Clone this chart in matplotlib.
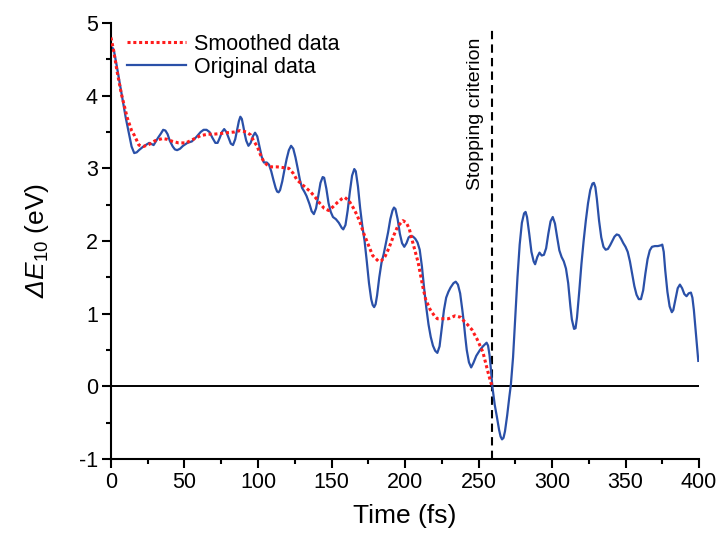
import matplotlib
matplotlib.use("Agg")
import matplotlib.pyplot as plt
from matplotlib.ticker import MultipleLocator

plt.rcParams['font.family'] = ['Liberation Sans', 'DejaVu Sans']
plt.rcParams['mathtext.fontset'] = 'custom'
plt.rcParams['mathtext.rm'] = 'Liberation Sans'
plt.rcParams['mathtext.it'] = 'Liberation Sans:italic'
plt.rcParams['mathtext.sf'] = 'Liberation Sans:italic'
plt.rcParams['axes.unicode_minus'] = False

# Original data (time in fs, energy gap in eV)
orig_t = [0, 1, 2, 4, 7, 10, 12, 14, 15.8, 17.5, 19, 22, 26, 29, 32, 34, 35.5, 37, 38.5, 40,
          42, 43.5, 45, 47, 49, 52, 55, 58, 61, 63, 65, 67, 69, 71, 72.5, 74, 75.5, 77, 78.5, 80,
          81.5, 83, 84.5, 86, 87, 88, 89, 90, 91, 92, 93.5, 95, 96.5, 98, 99.5, 101, 102.5, 104, 106, 107.5,
          109, 110.5, 112, 113, 114, 115, 116.5, 118, 119.5, 121, 122.5, 124, 125.5, 127, 128.5, 130, 131.5, 133, 135, 136.5,
          138, 139.5, 141, 142.5, 144, 145, 146.5, 148, 149.5, 151, 153, 155, 157, 158, 159.5, 161, 162.5, 164, 165.5, 166.5,
          168, 169.5, 171, 172.5, 174, 175.5, 177, 178, 179, 180, 181, 182.5, 184, 185.5, 187, 188.5, 190, 191.5, 192.5, 193.5,
          195, 196.5, 198, 199.5, 201, 202.5, 204, 205.5, 207, 208.5, 210, 211.5, 213, 214.5, 216, 217.5, 219, 220.5, 222, 223.5,
          225, 226.5, 228, 229.5, 231, 233, 234.5, 236, 237.5, 239, 240, 241, 242, 243.5, 245, 246.5, 248.5, 251, 253, 255.5,
          256.5, 257.5, 258.5, 259.4, 261, 262.5, 264, 265, 266, 267, 268, 269.5, 271, 272, 273.5, 275, 276.5, 278, 279.5, 281,
          282, 283, 284.5, 286, 287.5, 288.5, 290, 291.5, 293, 294.5, 296, 297.5, 299, 300.5, 302, 303.5, 305, 306.5, 308, 309.5,
          311, 312.5, 313.5, 315, 316, 317, 318.5, 320, 321.5, 323, 324.5, 326, 327.5, 328.5, 329.5, 330.5, 332, 333.5, 335, 336.5,
          338, 339.5, 341, 342.5, 344, 345.5, 347, 348.5, 350, 351.5, 353, 354.5, 356, 357.5, 359, 360.5, 362, 363.5, 365, 366.5,
          368, 370, 372, 374, 375, 376, 377, 378.5, 380, 381.5, 382.5, 384, 385.5, 387, 388.5, 390, 391.5, 393, 394.5, 395.5,
          396.5, 398, 399.5]
orig_e = [4.62, 4.66, 4.62, 4.4, 4.05, 3.7, 3.5, 3.3, 3.21, 3.22, 3.25, 3.3, 3.35, 3.32, 3.42, 3.48, 3.53, 3.52, 3.47, 3.38,
          3.3, 3.26, 3.25, 3.27, 3.31, 3.35, 3.37, 3.43, 3.5, 3.53, 3.53, 3.5, 3.42, 3.35, 3.35, 3.42, 3.5, 3.54, 3.5, 3.42,
          3.34, 3.32, 3.4, 3.55, 3.65, 3.71, 3.68, 3.58, 3.47, 3.38, 3.31, 3.35, 3.44, 3.49, 3.44, 3.3, 3.16, 3.08, 3.08, 3.05,
          2.96, 2.84, 2.73, 2.68, 2.67, 2.7, 2.82, 2.98, 3.13, 3.25, 3.31, 3.27, 3.15, 3.0, 2.84, 2.73, 2.68, 2.62, 2.51, 2.41,
          2.37, 2.45, 2.62, 2.8, 2.88, 2.87, 2.72, 2.52, 2.4, 2.33, 2.3, 2.25, 2.18, 2.16, 2.22, 2.42, 2.68, 2.9, 2.99, 2.96,
          2.75, 2.45, 2.2, 2.0, 1.72, 1.42, 1.2, 1.12, 1.09, 1.13, 1.25, 1.5, 1.7, 1.82, 1.97, 2.12, 2.3, 2.42, 2.46, 2.44,
          2.3, 2.1, 1.97, 1.92, 1.97, 2.05, 2.07, 2.06, 2.03, 1.98, 1.88, 1.65, 1.35, 1.08, 0.85, 0.68, 0.56, 0.49, 0.46, 0.55,
          0.8, 1.05, 1.22, 1.3, 1.36, 1.42, 1.44, 1.4, 1.28, 1.05, 0.88, 0.68, 0.5, 0.33, 0.26, 0.32, 0.42, 0.5, 0.55, 0.6,
          0.56, 0.43, 0.22, 0.0, -0.25, -0.42, -0.6, -0.69, -0.73, -0.71, -0.62, -0.4, -0.14, 0.02, 0.4, 0.95, 1.5, 1.95, 2.25, 2.38,
          2.4, 2.33, 2.1, 1.85, 1.72, 1.68, 1.78, 1.84, 1.8, 1.81, 1.9, 2.1, 2.27, 2.33, 2.24, 2.05, 1.87, 1.78, 1.72, 1.62,
          1.42, 1.1, 0.92, 0.79, 0.8, 0.95, 1.3, 1.68, 2.0, 2.28, 2.52, 2.7, 2.79, 2.8, 2.74, 2.58, 2.28, 2.05, 1.92, 1.88,
          1.89, 1.94, 2.0, 2.06, 2.09, 2.08, 2.03, 1.97, 1.92, 1.85, 1.72, 1.55, 1.38, 1.26, 1.2, 1.2, 1.32, 1.55, 1.75, 1.87,
          1.92, 1.93, 1.93, 1.94, 1.95, 1.85, 1.6, 1.3, 1.1, 1.02, 1.05, 1.2, 1.35, 1.4, 1.35, 1.27, 1.24, 1.28, 1.29, 1.22,
          1.05, 0.7, 0.35]

# Smoothed data
smooth_t = [0, 2, 4, 7, 11, 14, 16, 19, 22, 26, 30, 35, 38, 42, 46, 51, 56, 61, 66, 70,
            75, 79, 84, 88, 92, 95, 97, 99.5, 102, 104, 106, 109, 113, 117, 121, 124, 126.5, 131, 135.6, 139,
            142, 145, 148, 151, 154, 157, 159, 162, 165, 167.5, 169.5, 172, 175, 178, 182, 184, 186.5, 189, 192, 195,
            198.6, 201, 203, 205, 207, 209, 212, 214, 217, 220, 222, 226, 229.5, 234, 238, 240, 242.5, 245.5, 249, 253,
            256, 258.4, 259.4]
smooth_e = [4.8, 4.6, 4.35, 4.03, 3.7, 3.52, 3.45, 3.32, 3.3, 3.33, 3.38, 3.41, 3.4, 3.37, 3.35, 3.35, 3.4, 3.45, 3.47, 3.47,
            3.48, 3.49, 3.5, 3.52, 3.5, 3.46, 3.38, 3.3, 3.17, 3.09, 3.05, 3.02, 3.02, 3.01, 3.0, 2.93, 2.84, 2.76, 2.68, 2.6,
            2.52, 2.45, 2.42, 2.47, 2.53, 2.58, 2.6, 2.55, 2.45, 2.35, 2.25, 2.1, 1.95, 1.8, 1.72, 1.73, 1.79, 1.9, 2.06, 2.2,
            2.28, 2.25, 2.16, 2.0, 1.85, 1.7, 1.38, 1.2, 1.06, 0.97, 0.93, 0.93, 0.93, 0.97, 0.95, 0.9, 0.85, 0.78, 0.65, 0.47,
            0.23, 0.05, 0.0]

stop_t = 259.4
x_ticks = [0, 50, 100, 150, 200, 250, 300, 350, 400]
y_ticks = [-1, 0, 1, 2, 3, 4, 5]

fig = plt.figure(figsize=(7.24, 5.41), dpi=100)
ax = fig.add_axes([0.1533, 0.1516, 0.8122, 0.8059])

ax.axhline(0, color='black', lw=1.4, zorder=1)
ax.axvline(stop_t, ymax=0.99, color='black', lw=1.5, linestyle=(0, (4, 2.5)), zorder=1)
ax.plot(orig_t, orig_e, color='#2a50a8', lw=1.6, label='Original data', zorder=2,
        solid_joinstyle='round')
ax.plot(smooth_t, smooth_e, color='#ff1c1c', lw=2.2, linestyle=(0, (1, 0.9)), label='Smoothed data', zorder=3)

ax.text(stop_t - 6, 4.8, 'Stopping criterion', rotation=90, ha='right', va='top', fontsize=14)

ax.set_xlim(0, 400)
ax.set_ylim(-1, 5)
ax.set_xticks(x_ticks)
ax.set_yticks(y_ticks)
ax.xaxis.set_minor_locator(MultipleLocator(25))
ax.yaxis.set_minor_locator(MultipleLocator(0.5))
for s in ['top', 'right']:
    ax.spines[s].set_visible(False)
for s in ['left', 'bottom']:
    ax.spines[s].set_linewidth(1.5)
ax.tick_params(which='major', direction='out', length=6.5, width=1.5, labelsize=15.5, pad=3)
ax.tick_params(which='minor', direction='out', length=3.5, width=1.5)

ax.set_xlabel('Time (fs)', fontsize=19, labelpad=8)
ax.set_ylabel(r'$\mathsf{ΔE}_{\mathrm{10}}$ (eV)', fontsize=19, labelpad=20)

handles, labels = ax.get_legend_handles_labels()
ax.legend(handles[::-1], labels[::-1], loc='upper left', bbox_to_anchor=(-0.005, 1.02),
          frameon=False, fontsize=15.5, handlelength=2.7, handletextpad=0.4, labelspacing=0.1)

fig.savefig('out.png', dpi=100)
